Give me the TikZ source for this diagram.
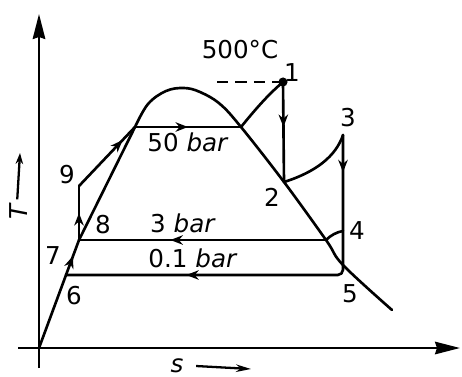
\documentclass[tikz,border=0pt]{standalone}
\usepackage{fontspec}
\setmainfont{DejaVu Sans}
\usetikzlibrary{arrows.meta,decorations.markings}

\begin{document}
\begin{tikzpicture}[x=0.02cm, y=-0.02cm,
  >=Stealth, font=\fontsize{14}{16}\selectfont,
  line/.style={line width=1.5pt, line join=round, line cap=round},
  axis/.style={line width=1.3pt, -{Stealth[length=0.5cm,width=0.25cm,inset=0.04cm]}},
  midarrow/.style={postaction={decorate, decoration={markings,
    mark=at position #1 with {\arrow{Stealth[length=0.25cm,width=0.19cm]}}}}},
  lbl/.style={inner sep=0pt},
]
\useasboundingbox (0,0) rectangle (462,376);

% ======================= state points =======================
\coordinate (O)  at (39,348);
\coordinate (p1) at (283,82);
\coordinate (p2) at (284,182);
\coordinate (p3) at (343,135);
\coordinate (p4) at (343,231);
\coordinate (p5) at (343,275);
\coordinate (p6) at (66,275);
\coordinate (p8) at (79,240);
\coordinate (p9) at (79,186);
\coordinate (f)  at (135,127);   % sat. liquid, 50 bar
\coordinate (g)  at (241,127);   % sat. vapour, 50 bar
\coordinate (q)  at (326,240);   % sat. vapour, 3 bar
\coordinate (t500) at (217,82);

% ======================= axes =======================
\coordinate (xs) at (18,348);
\coordinate (xe) at (460,348);
\coordinate (ys) at (39,368);
\coordinate (ye) at (39,14);
\draw[axis] (xs) -- (xe);
\draw[axis] (ys) -- (ye);

\node[lbl, rotate=90] (Tlbl) at (19,211) {\textit{T}};
\coordinate (Ttip) at (20,153);
\draw[line width=1.3pt, -{Stealth[length=0.22cm,width=0.15cm]}] ([xshift=-1pt]Tlbl.east) ++(0,-3) -- (Ttip);

\node[lbl] (slbl) at (177,366) {\textit{s}};
\coordinate (stip) at (251,369);
\draw[line width=1.3pt, -{Stealth[length=0.3cm,width=0.15cm]}] ([xshift=7pt]slbl.east) -- (stip);

% ======================= saturation dome =======================
\draw[line] (O) -- (p6);
\draw[line, midarrow=0.55] (p6) -- (p8);
\draw[line] (p8) -- (f);
\draw[line] plot[smooth, tension=0.6] coordinates {(f) (148,104) (166,91) (184,88) (200,92) (220,104) (g) (p2) (q) (343,265) (392,310)};

% ======================= cycle =======================
\draw[line, midarrow=0.5] (f) -- (g);
\draw[line] (g) .. controls (258,106) and (270,93) .. (p1);
\draw[line width=1.5pt, dash pattern=on 6.5pt off 4pt] (t500) -- (p1);
\fill (p1) circle[radius=2.6pt];
\draw[line, midarrow=0.45] (p1) -- (p2);
\draw[line] (p2) .. controls (316,172) and (336,156) .. (p3);
\draw[line, rounded corners=3pt, midarrow=0.09, midarrow=0.71] (p3) -- (p5) -- (p6);
\draw[line] (q) .. controls (331,235) and (337,232) .. (p4);
\draw[line, midarrow=0.63] (q) -- (p8);
\draw[line, midarrow=0.5] (p8) -- (p9);
\draw[line, midarrow=0.78] (p9) -- (f);

% ======================= labels =======================
\node[lbl] (l500) at (240,50) {500°C};
\node[lbl] (l1) at (292,73) {1};
\node[lbl] (l2) at (272,197) {2};
\node[lbl] (l3) at (348,118) {3};
\node[lbl] (l4) at (357,231) {4};
\node[lbl] (l5) at (350,294) {5};
\node[lbl] (l6) at (74,296) {6};
\node[lbl] (l7) at (53,256) {7};
\node[lbl] (l8) at (103,225) {8};
\node[lbl] (l9) at (67,175) {9};
\node[lbl] (b50) at (188,142) {50 \textit{bar}};
\node[lbl] (b3)  at (183,223) {3 \textit{bar}};
\node[lbl] (b01) at (193,258) {0.1 \textit{bar}};

\end{tikzpicture}
\end{document}
